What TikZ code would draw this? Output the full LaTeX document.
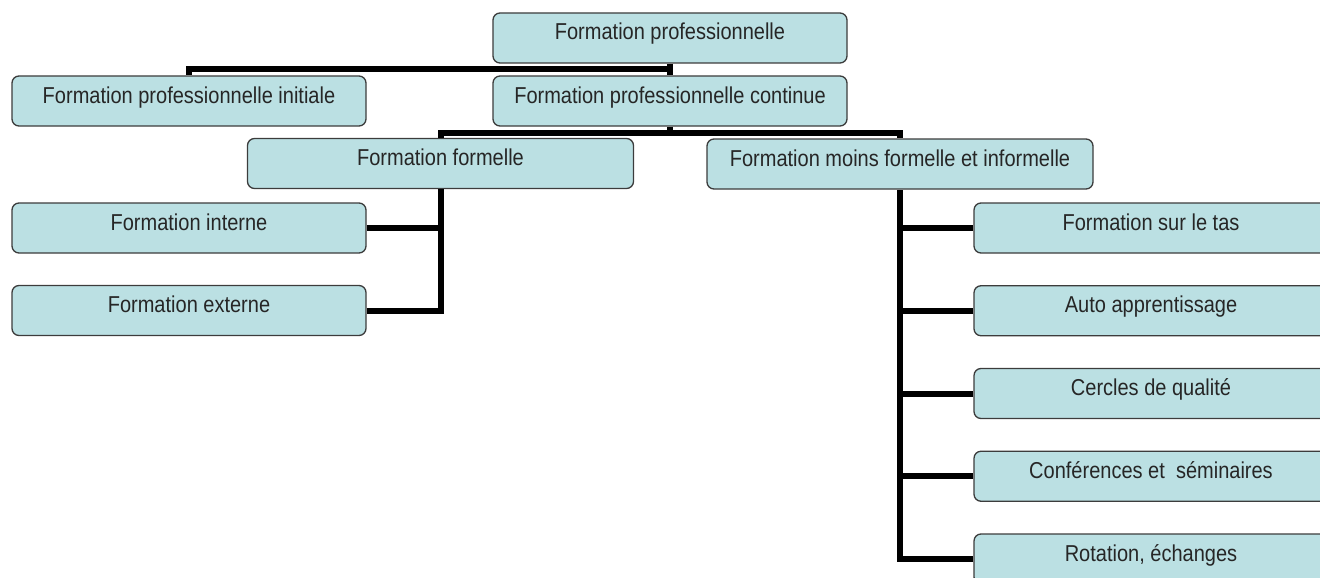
\documentclass[tikz,border=0pt]{standalone}
\usepackage{fontspec}
\setmainfont[FakeStretch=0.87]{Liberation Sans}
\usetikzlibrary{calc}

\definecolor{boxfill}{RGB}{187,224,227}
\definecolor{boxline}{RGB}{60,60,60}

\begin{document}
\begin{tikzpicture}[%
        x = 1pt,
        y = -1pt,
        box/.style = {%
            draw = boxline,
            fill = boxfill,
            line width = 1.3pt,
            rounded corners = 7pt,
            minimum width = 354pt,
            inner xsep = 0pt,
            inner ysep = 0pt,
            text height = 27pt,
            text depth = 23pt,
            text = black!85,
            font = \fontsize{23}{27}\selectfont
        },
        widebox/.style = {box, minimum width = 386pt},
        link/.style = {line width = 6pt}
    ]

        % Canvas.
        \useasboundingbox (0, 0) rectangle (1320, 578);

        % Boxes of the first levels.
        \node[box] (top)      at (670, 38)    {Formation professionnelle};
        \node[box] (initiale) at (189, 101)   {Formation professionnelle initiale};
        \node[box] (continue) at (670, 101)   {Formation professionnelle continue};
        \node[widebox] (formelle) at (440.5, 163.5) {Formation formelle};
        \node[widebox] (moins)    at (900, 164) {Formation moins formelle et informelle};

        % Formal training.
        \node[box] (interne) at (189, 228)   {Formation interne};
        \node[box] (externe) at (189, 310.5) {Formation externe};

        % Less formal and informal training.
        \foreach \txt [count = \i] in {%
            Formation sur le tas,
            Auto apprentissage,
            Cercles de qualité,
            Conférences et~ séminaires,
            {Rotation, échanges}}{%
            \node[box] (r\i) at (1151, {145.25 + 82.75*\i}) {\txt};
        }

        % Connectors:
        \draw[link] (top.south) -- (continue.north);
        \draw[link] ($(top.south)!0.5!(continue.north)$) -| (initiale.north);

        \draw[link] (continue.south) -- ++(0, 6) coordinate (bus);
        \draw[link] (formelle.north) |- (bus) -| (moins.north);

        \draw[link] (interne.east) -| (formelle.south);
        \draw[link] (externe.east) -| (formelle.south);

        \foreach \i in {1, ..., 5}{%
            \draw[link] (r\i.west) -| (moins.south);
        }
    \end{tikzpicture}
\end{document}
